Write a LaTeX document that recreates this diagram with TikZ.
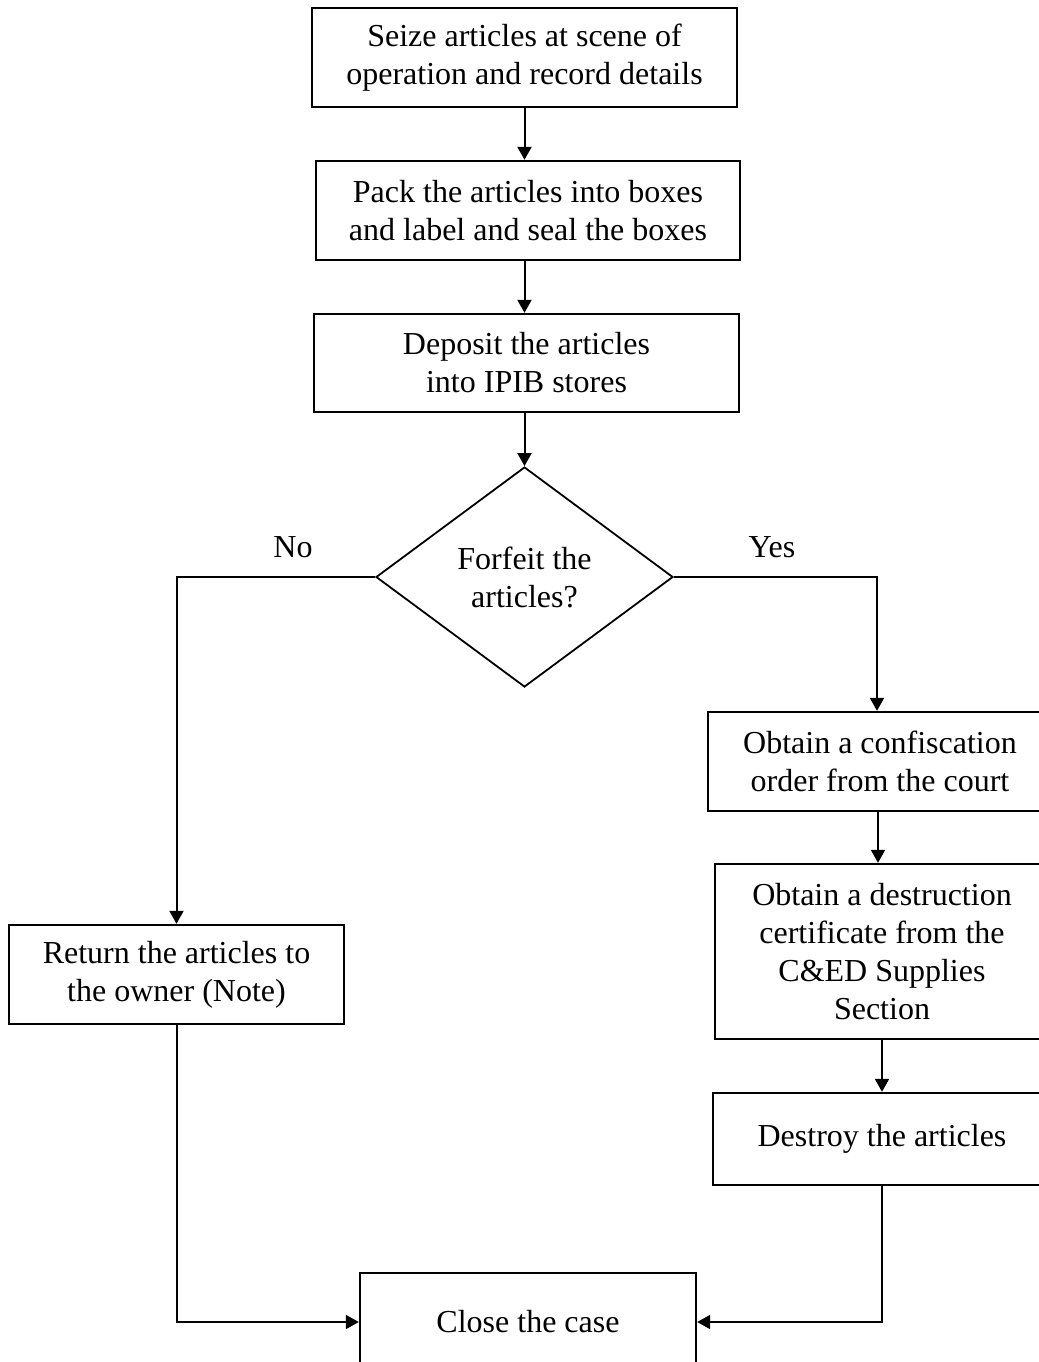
\documentclass[tikz,border=0pt]{standalone}
\usepackage{fontspec}
\setmainfont{Liberation Serif}
\usetikzlibrary{arrows.meta,shapes.geometric,positioning}

\begin{document}
\begin{tikzpicture}[x=0.5pt,y=-0.5pt,
    box/.style={draw,line width=1.2pt,align=center,inner sep=0pt,font=\fontsize{16}{19}\selectfont},
    dec/.style={draw,diamond,line width=0.9pt,align=center,inner sep=0pt,font=\fontsize{16}{19}\selectfont},
    lbl/.style={font=\fontsize{16}{19}\selectfont},
    flow/.style={-{Triangle[length=6.5pt,width=7pt]},line width=1pt}]
    \useasboundingbox (0,0) rectangle (1039,1362);

    % main column
    \node[box,minimum width=212.5pt,minimum height=49.5pt] (seize) at (524.5,57.5)
        {Seize articles at scene of\\operation and record details};
    \node[box,minimum width=212pt,minimum height=49.5pt] (pack) at (528,210.5)
        {Pack the articles into boxes\\and label and seal the boxes};
    \node[box,minimum width=212.5pt,minimum height=49pt] (deposit) at (526.5,363)
        {Deposit the articles\\ into IPIB stores};
    \node[dec,minimum width=148.5pt,minimum height=110pt] (forfeit) at (524.5,577)
        {Forfeit the\\articles?};

    \node[lbl] (no) at (293,547) {No};
    \node[lbl] (yes) at (772,547) {Yes};

    % yes branch
    \node[box,minimum width=172pt,minimum height=49.5pt] (confisc) at (880,761.5)
        {Obtain a confiscation\\order from the court};
    \node[box,minimum width=167pt,minimum height=87.5pt] (destcert) at (882,951.5)
        {Obtain a destruction\\certificate from the\\C\&ED Supplies\\Section};
    \node[box,minimum width=169pt,minimum height=46pt] (destroy) at (882,1139)
        {Destroy the articles};

    % no branch
    \node[box,minimum width=167.5pt,minimum height=49.5pt] (giveback) at (176.5,974.5)
        {Return the articles to\\the owner (Note)};

    \node[box,minimum width=168pt,minimum height=49pt] (close) at (528,1322)
        {Close the case};

    \draw[flow](seize.south)--(seize.south |- pack.north);
    \draw[flow](seize.south |- pack.south)--(seize.south |- deposit.north);
    \draw[flow](forfeit.north |- deposit.south)--(forfeit.north);
    \draw[flow](forfeit.west)-|(giveback.north);
    \draw[flow](forfeit.east)-|([xshift=-1.5pt]confisc.north);
    \draw[flow]([xshift=-1pt]confisc.south)--([xshift=-1pt]confisc.south |- destcert.north);
    \draw[flow](destcert.south)--(destroy.north);
    \draw[flow](destroy.south)|-(close.east);
    \draw[flow](giveback.south)|-(close.west);
\end{tikzpicture}
\end{document}
